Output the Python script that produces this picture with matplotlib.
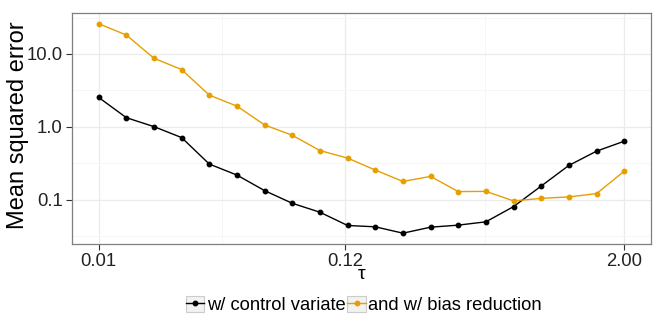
import matplotlib
matplotlib.use("Agg")
import matplotlib.pyplot as plt
from matplotlib.patches import Rectangle
from matplotlib.legend_handler import HandlerLine2D
from matplotlib.ticker import FixedLocator, NullFormatter

plt.rcParams["font.family"] = ["Liberation Sans", "DejaVu Sans"]

tau = [0.0100, 0.01322, 0.01747, 0.02308, 0.03051, 0.04032, 0.05328, 0.07042,
       0.09306, 0.1230, 0.1625, 0.2148, 0.2839, 0.3752, 0.4959, 0.6553,
       0.8661, 1.1446, 1.5127, 2.0000]
mse_cv = [2.54, 1.34, 1.01, 0.715, 0.310, 0.219, 0.134, 0.0899, 0.0678, 0.0446,
          0.0428, 0.0350, 0.0423, 0.0451, 0.0501, 0.0810, 0.155, 0.297, 0.466, 0.638]
mse_br = [26.0, 18.2, 8.73, 6.12, 2.73, 1.93, 1.065, 0.769, 0.475, 0.374,
          0.257, 0.179, 0.210, 0.130, 0.131, 0.0969, 0.105, 0.110, 0.122, 0.248]
labels = ["w/ control variate", "and w/ bias reduction"]
colors = ["black", "#E69F00"]

x_ticks = [0.01, 0.12, 2.00]
x_minor = [0.0346, 0.49]
y_ticks = [0.1, 1.0, 10.0]
y_minor = [0.0316, 0.316, 3.16, 31.6]


class BoxedLine(HandlerLine2D):
    # ggplot-style legend key: grey box behind the line
    def create_artists(self, legend, orig_handle, xdescent, ydescent, width, height, fontsize, trans):
        arts = super().create_artists(legend, orig_handle, xdescent, ydescent, width, height, fontsize, trans)
        box = Rectangle((-xdescent, -ydescent), width, height, facecolor="#F2F2F2",
                        edgecolor="#CCCCCC", linewidth=0.8, transform=trans)
        return [box] + list(arts)


fig = plt.figure(figsize=(6.64, 3.32), dpi=100)
ax = fig.add_axes([0.109, 0.266, 0.8707, 0.694])

lines = []
for y, c, lab in zip([mse_cv, mse_br], colors, labels):
    (ln,) = ax.plot(tau, y, color=c, lw=1.0, marker="o", ms=3.2, mec=c, mfc=c, label=lab, zorder=3)
    lines.append(ln)

ax.set_xscale("log")
ax.set_yscale("log")
ax.set_xlim(10 ** -2.115, 10 ** 0.416)
ax.set_ylim(10 ** -1.6, 10 ** 1.558)

ax.xaxis.set_major_locator(FixedLocator(x_ticks))
ax.xaxis.set_minor_locator(FixedLocator(x_minor))
ax.set_xticklabels(["%.2f" % v for v in x_ticks])
ax.xaxis.set_minor_formatter(NullFormatter())
ax.yaxis.set_major_locator(FixedLocator(y_ticks))
ax.yaxis.set_minor_locator(FixedLocator(y_minor))
ax.set_yticklabels(["%.1f" % v for v in y_ticks])
ax.yaxis.set_minor_formatter(NullFormatter())

ax.grid(True, which="major", color="#EBEBEB", lw=0.9, zorder=0)
ax.grid(True, which="minor", color="#F5F5F5", lw=0.6, zorder=0)
ax.set_axisbelow(True)
ax.tick_params(which="major", length=4, width=0.8, color="#333333", labelsize=13.3, labelcolor="#222222", pad=3)
ax.tick_params(which="minor", length=0)
for s in ax.spines.values():
    s.set_color("#7F7F7F")
    s.set_linewidth(0.9)

fig.text(362 / 664, 1 - 279 / 332, "τ", fontsize=14, ha="center", va="baseline")
fig.text(18.5 / 664, 1 - 125 / 332, "Mean squared error", fontsize=17, rotation=90, ha="center", va="center")

fig.legend(handles=lines, labels=labels, loc="center", bbox_to_anchor=(0.548, 0.081), ncol=2,
           frameon=False, fontsize=13.2, handlelength=1.0, handleheight=1.0, handletextpad=0.15,
           columnspacing=0.1, numpoints=1, handler_map={matplotlib.lines.Line2D: BoxedLine()})

fig.savefig("out.png", dpi=100)
